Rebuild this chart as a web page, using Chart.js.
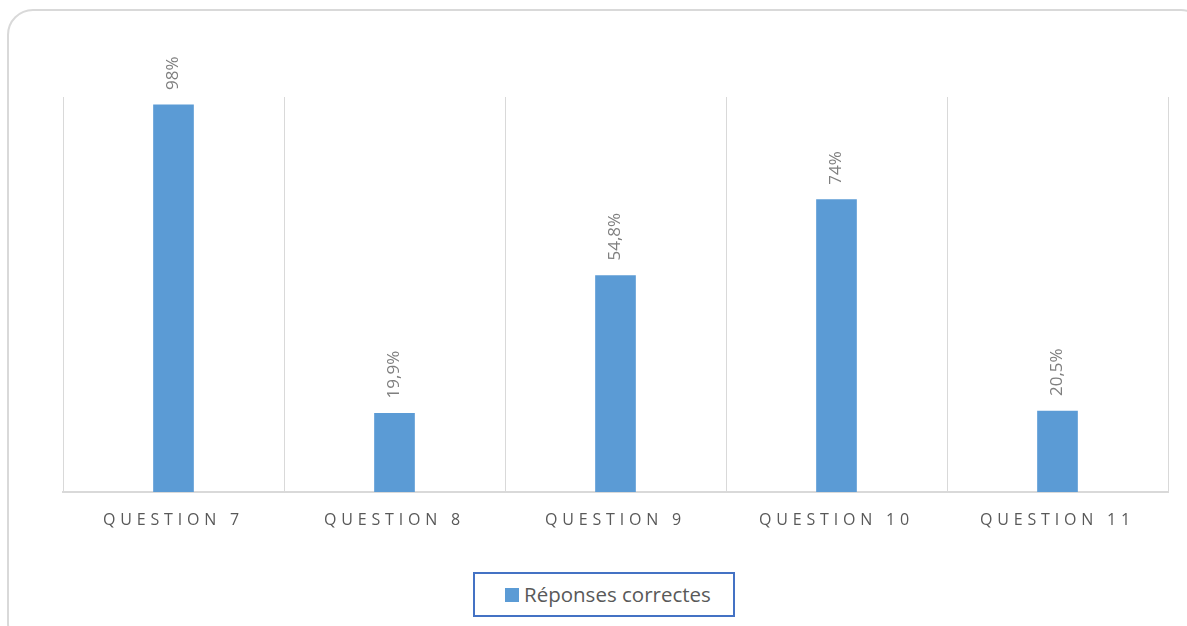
<!DOCTYPE html>
<html>
<head>
<meta charset="utf-8">
<script src="https://cdn.jsdelivr.net/npm/chart.js@4"></script>
<style>
  body { margin: 0; background: #fff; width: 1187px; height: 626px; overflow: hidden; position: relative; font-family: "Open Sans", sans-serif; }
  .frame { position: absolute; left: 7px; top: 9px; width: 1200px; height: 640px; border: 2px solid #d9d9d9; border-radius: 26px; box-sizing: border-box; }
  .chart_box { position: absolute; left: 0; top: 0; width: 1187px; height: 545px; }
  .legend { position: absolute; left: 473px; top: 572px; width: 262px; height: 45px; border: 2px solid #4472c4; box-sizing: border-box; }
  .legend .swatch { position: absolute; left: 30px; top: 14px; width: 14px; height: 14px; background: #5b9bd5; }
  .legend .text { position: absolute; left: 49px; top: 6px; font-size: 20.5px; color: #595959; white-space: nowrap; line-height: 28px; }
</style>
</head>
<body>
<div class="frame"></div>
<div class="chart_box"><canvas class="answers_graph"></canvas></div>
<div class="legend"><span class="swatch"></span><span class="text">Réponses correctes</span></div>

<script>
const categories = ['QUESTION 7', 'QUESTION 8', 'QUESTION 9', 'QUESTION 10', 'QUESTION 11'];
const correctAnswers = [98, 19.9, 54.8, 74, 20.5];
const seriesName = 'Réponses correctes';

// spaced-out capitals on the category axis, reset before the bars
const letterSpacing = {
    id: 'letterSpacing',
    beforeDraw(chart) { chart.ctx.letterSpacing = '4.8px'; },
    beforeDatasetsDraw(chart) { chart.ctx.letterSpacing = '0px'; }
};

// rotated value labels above each bar
const valueLabels = {
    id: 'valueLabels',
    afterDatasetsDraw(chart) {
        const ctx = chart.ctx;
        const meta = chart.getDatasetMeta(0);
        ctx.save();
        ctx.letterSpacing = '0px';
        ctx.font = '17px "Open Sans", sans-serif';
        ctx.fillStyle = '#7f7f7f';
        ctx.textAlign = 'left';
        ctx.textBaseline = 'middle';
        meta.data.forEach((bar, i) => {
            const text = String(correctAnswers[i]).replace('.', ',') + '%';
            ctx.save();
            ctx.translate(bar.x, bar.y - 15);
            ctx.rotate(-Math.PI / 2);
            ctx.fillText(text, 0, 0);
            ctx.restore();
        });
        ctx.restore();
    }
};

const answers = document.getElementsByClassName('answers_graph')[0];
const answersChart = new Chart(answers,
    {
        type: 'bar',
        data:
        {
            labels: categories,
            datasets:
            [{
                label: seriesName,
                data: correctAnswers,
                backgroundColor: '#5b9bd5',
                barThickness: 40,
                borderWidth: 0,
            }]
        },
        options:
        {
            animation: false,
            responsive: true,
            maintainAspectRatio: false,
            layout: { padding: { left: 63, right: 19, top: 97, bottom: 0 } },
            scales:
            {
                x:
                {
                    grid: { color: '#d9d9d9', drawTicks: false, lineWidth: 1 },
                    border: { color: '#d9d9d9', width: 2 },
                    ticks: { color: '#595959', padding: 19, font: { family: '"Open Sans", sans-serif', size: 16 } },
                    afterFit: s => { s.height = 53; }
                },
                y:
                {
                    display: false,
                    min: 0,
                    max: 100
                }
            },
            plugins:
            {
                legend: { display: false },
                tooltip: { enabled: false }
            }
        },
        plugins: [letterSpacing, valueLabels]
    })
</script>
</body>
</html>
